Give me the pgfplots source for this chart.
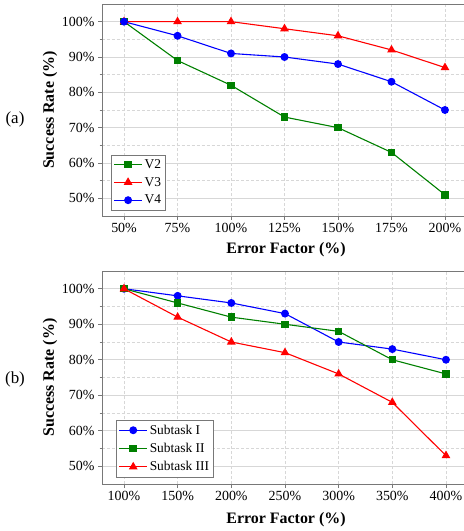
\documentclass[border=0pt]{standalone}
\usepackage{pgfplots}
\pgfplotsset{compat=1.18}
\usepackage{fontspec}
\setmainfont{Liberation Serif}

\definecolor{cgreen}{RGB}{0,128,0}
\definecolor{cred}{RGB}{255,0,0}
\definecolor{cblue}{RGB}{0,0,255}
\definecolor{gridc}{RGB}{215,215,215}
\definecolor{framec}{RGB}{120,120,120}

\pgfplotsset{
  sr/.style={
    scale only axis, width=368bp, height=212bp,
    anchor=south west,
    ymin=45, ymax=105,
    ytick={50,60,...,100},
    minor y tick num=1,
    yticklabel={\pgfmathprintnumber{\tick}\%},
    /pgf/number format/assume math mode=true,
    tick align=outside, tick pos=left,
    major tick length=4bp, minor tick length=2.5bp,
    every tick/.style={framec, line width=0.6pt},
    axis line style={framec, line width=0.8pt},
    grid=both,
    major x grid style={gridc, densely dashed, line width=0.5pt},
    major y grid style={gridc, line width=0.6pt},
    minor y grid style={gridc, densely dashed, line width=0.5pt},
    tick label style={font=\fontsize{14}{16}\selectfont},
    label style={font=\fontsize{16}{18}\selectfont\bfseries},
    ylabel style={at={(axis description cs:-0.141,0.5)}, anchor=center},
    xlabel style={anchor=center},
    legend style={font=\fontsize{13.5}{15}\selectfont, draw=framec,
      anchor=south west, cells={anchor=west}, row sep=3.5bp,
      inner sep=2.5bp},
    legend image code/.code={%
      \draw[mark repeat=2, mark phase=2, line width=1.1pt]
        plot coordinates {(0bp,0bp) (14bp,0bp) (28bp,0bp)};},
    every axis plot/.append style={line width=1.1pt},
  }
}

\begin{document}
\begin{tikzpicture}
\path[use as bounding box] (0,0) rectangle (464bp,531bp);

% panel (a)
\begin{axis}[sr,
  at={(102bp,315bp)},
  xmin=39.7, xmax=211.7,
  xtick={50,75,...,200},
  xticklabel={\pgfmathprintnumber{\tick}\%},
  xlabel={Error Factor (\%)},
  ylabel={Success Rate (\%)},
  xlabel style={at={(axis description cs:0.5,-0.16)}},
  legend style={at={(axis description cs:0.024,0.028)}},
]
\addplot[cgreen, mark=square*, mark size=3.2pt] coordinates {
  (50,100) (75,89) (100,82) (125,73) (150,70) (175,63) (200,51)};
\addplot[cred, mark=triangle*, mark size=4pt] coordinates {
  (50,100) (75,100) (100,100) (125,98) (150,96) (175,92) (200,87)};
\addplot[cblue, mark=*, mark size=3.4pt] coordinates {
  (50,100) (75,96) (100,91) (125,90) (150,88) (175,83) (200,75)};
\legend{V2,V3,V4}
\end{axis}

% panel (b)
\begin{axis}[sr,
  at={(102bp,47bp)}, height=213bp,
  xmin=79.5, xmax=422.4,
  xtick={100,150,...,400},
  xticklabel={\pgfmathprintnumber{\tick}\%},
  xlabel={Error Factor (\%)},
  ylabel={Success Rate (\%)},
  xlabel style={at={(axis description cs:0.5,-0.169)}},
  legend style={at={(axis description cs:0.038,0.033)}},
]
\addplot[cblue, mark=*, mark size=3.4pt] coordinates {
  (100,100) (150,98) (200,96) (250,93) (300,85) (350,83) (400,80)};
\addplot[cgreen, mark=square*, mark size=3.2pt] coordinates {
  (100,100) (150,96) (200,92) (250,90) (300,88) (350,80) (400,76)};
\addplot[cred, mark=triangle*, mark size=4pt] coordinates {
  (100,100) (150,92) (200,85) (250,82) (300,76) (350,68) (400,53)};
\legend{Subtask I,Subtask II,Subtask III}
\end{axis}

\node[font=\fontsize{17}{19}\selectfont] at (15bp,412bp) {(a)};
\node[font=\fontsize{17}{19}\selectfont] at (15bp,152bp) {(b)};
\end{tikzpicture}
\end{document}
